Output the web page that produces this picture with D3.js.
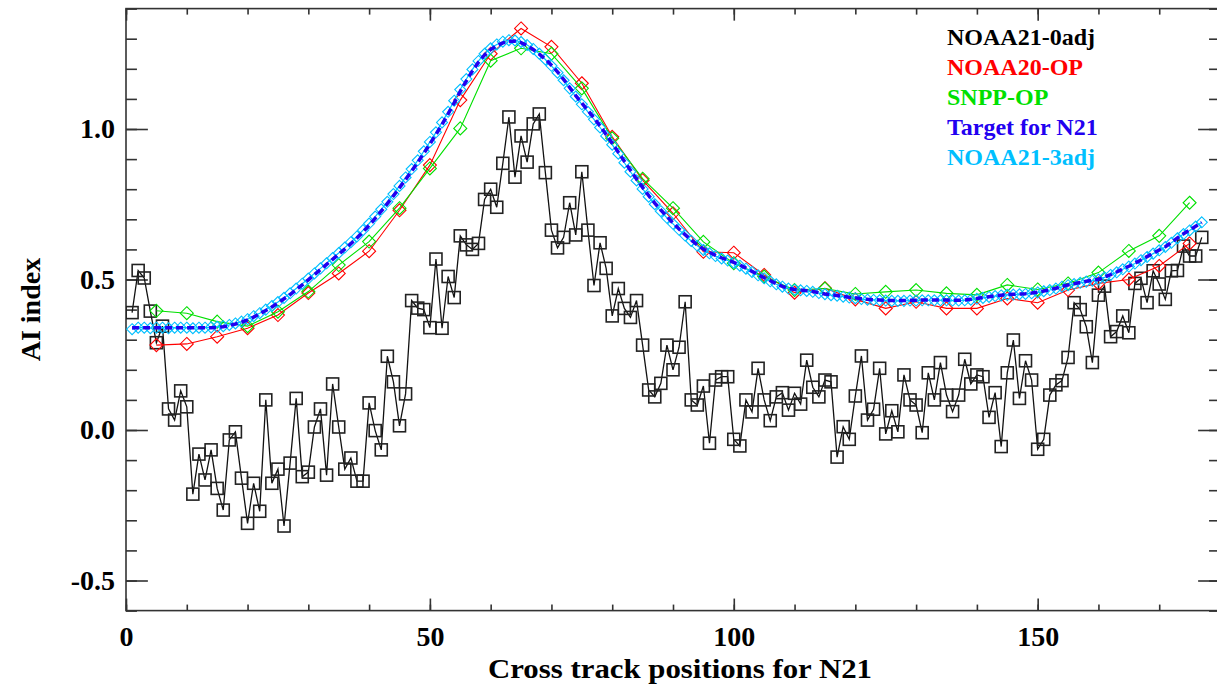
<!DOCTYPE html>
<html lang="en">
<head>
    <meta charset="UTF-8">
    <title>N21 AI cross track</title>
    <style>
        body { margin: 0; background: #fff; }
        svg { display: block; }
        text { font-family: "Liberation Serif", "Times New Roman", serif; font-weight: bold; }
        .tick text { font-size: 28px; fill: #000; }
        .tick line, .frame { stroke: #333; stroke-width: 1.6; }
        .axis-label { font-size: 28px; fill: #000; }
        .legend text { font-size: 24px; }
    </style>
</head>
<body>

<svg width="1217" height="685"></svg>

<script src="https://d3js.org/d3.v7.min.js"></script>
<script>

    // Cross track positions
    const n21Pos = d3.range(1, 178);
    const opPos = [5, 10, 15, 20, 25, 30, 35, 40, 45, 50, 55, 60, 65, 70, 75, 80, 85, 90,
                   95, 100, 105, 110, 115, 120, 125, 130, 135, 140, 145, 150, 155, 160, 165, 170, 175];

    // NOAA21-0adj (black squares)
    const noaa21_0adj = [
        0.39, 0.53, 0.505, 0.395, 0.29, 0.345, 0.07, 0.033, 0.13, 0.077,
        -0.213, -0.08, -0.166, -0.066, -0.194, -0.266, -0.033, -0.006, -0.16, -0.31,
        -0.177, -0.27, 0.10, -0.177, -0.13, -0.319, -0.11, 0.105, -0.155, -0.14,
        0.01, 0.07, -0.15, 0.153, 0.01, -0.13, -0.093, -0.17, -0.17, 0.09,
        -0.002, -0.066, 0.245, 0.16, 0.014, 0.12, 0.43, 0.405, 0.40, 0.34,
        0.568, 0.338, 0.51, 0.44, 0.645, 0.615, 0.60, 0.62, 0.766, 0.80,
        0.74, 0.886, 1.04, 0.84, 0.977, 0.89, 1.017, 1.05, 0.855, 0.664,
        0.605, 0.64, 0.755, 0.648, 0.858, 0.664, 0.48, 0.622, 0.537, 0.379,
        0.47, 0.404, 0.374, 0.43, 0.282, 0.133, 0.11, 0.155, 0.282, 0.20,
        0.275, 0.426, 0.10, 0.083, 0.146, -0.044, 0.166, 0.177, 0.177, -0.031,
        -0.053, 0.10, 0.06, 0.205, 0.10, 0.031, 0.11, 0.124, 0.066, 0.122,
        0.086, 0.232, 0.142, 0.11, 0.166, 0.16, -0.09, 0.011, -0.031, 0.113,
        0.246, 0.033, 0.069, 0.205, -0.013, 0.064, -0.006, 0.183, 0.10, 0.083,
        -0.009, 0.19, 0.10, 0.224, 0.116, 0.061, 0.116, 0.235, 0.153, 0.183,
        0.177, 0.042, 0.124, -0.055, 0.19, 0.299, 0.105, 0.23, 0.166, -0.064,
        -0.031, 0.116, 0.15, 0.164, 0.241, 0.423, 0.40, 0.343, 0.224, 0.448,
        0.478, 0.31, 0.327, 0.379, 0.323, 0.487, 0.504, 0.423, 0.529, 0.485,
        0.434, 0.529, 0.53, 0.611, 0.578, 0.578, 0.64
    ];

    // NOAA20-OP (red diamonds)
    const noaa20_op = [
        0.282, 0.286, 0.31, 0.338, 0.382, 0.455, 0.52, 0.594, 0.73, 0.88,
        1.096, 1.25, 1.334, 1.273, 1.152, 0.974, 0.83, 0.72, 0.592, 0.589,
        0.515, 0.456, 0.471, 0.434, 0.404, 0.426, 0.404, 0.404, 0.437, 0.423,
        0.465, 0.487, 0.50, 0.545, 0.62
    ];

    // SNPP-OP (green diamonds)
    const snpp_op = [
        0.396, 0.388, 0.36, 0.345, 0.393, 0.46, 0.548, 0.626, 0.737, 0.869,
        1.002, 1.227, 1.268, 1.25, 1.135, 0.969, 0.835, 0.737, 0.625, 0.554,
        0.51, 0.465, 0.47, 0.452, 0.459, 0.465, 0.454, 0.449, 0.482, 0.467,
        0.487, 0.523, 0.595, 0.645, 0.755
    ];

    // Target for N21 (blue dashed)
    const target_n21 = [
        0.34, 0.34, 0.34, 0.34, 0.34, 0.34, 0.34, 0.34, 0.34, 0.34,
        0.34, 0.34, 0.34, 0.34, 0.341, 0.343, 0.347, 0.352, 0.358, 0.366,
        0.375, 0.386, 0.397, 0.409, 0.422, 0.436, 0.45, 0.466, 0.482, 0.499,
        0.516, 0.533, 0.55, 0.567, 0.584, 0.601, 0.619, 0.638, 0.658, 0.68,
        0.703, 0.727, 0.752, 0.778, 0.805, 0.832, 0.86, 0.889, 0.919, 0.95,
        0.982, 1.015, 1.05, 1.087, 1.125, 1.16, 1.193, 1.222, 1.246, 1.264,
        1.277, 1.286, 1.291, 1.292, 1.287, 1.277, 1.264, 1.249, 1.232, 1.212,
        1.19, 1.165, 1.138, 1.111, 1.086, 1.062, 1.037, 1.01, 0.982, 0.953,
        0.923, 0.893, 0.863, 0.834, 0.806, 0.779, 0.754, 0.731, 0.709, 0.688,
        0.668, 0.649, 0.631, 0.615, 0.601, 0.59, 0.58, 0.572, 0.565, 0.557,
        0.548, 0.538, 0.527, 0.516, 0.506, 0.496, 0.486, 0.477, 0.471, 0.467,
        0.465, 0.463, 0.46, 0.456, 0.452, 0.449, 0.447, 0.444, 0.441, 0.439,
        0.436, 0.434, 0.433, 0.432, 0.431, 0.43, 0.43, 0.43, 0.431, 0.431,
        0.432, 0.432, 0.432, 0.432, 0.432, 0.431, 0.431, 0.432, 0.434, 0.437,
        0.44, 0.443, 0.446, 0.448, 0.45, 0.451, 0.452, 0.453, 0.455, 0.458,
        0.462, 0.466, 0.471, 0.477, 0.482, 0.486, 0.49, 0.494, 0.497, 0.501,
        0.508, 0.516, 0.525, 0.535, 0.544, 0.554, 0.565, 0.576, 0.587, 0.598,
        0.609, 0.623, 0.638, 0.652, 0.664, 0.677, 0.689
    ];

    // NOAA21-3adj (cyan diamonds)
    const noaa21_3adj = [
        0.335, 0.34, 0.34, 0.338, 0.34, 0.34, 0.338, 0.34, 0.34, 0.34,
        0.338, 0.34, 0.34, 0.341, 0.343, 0.345, 0.349, 0.354, 0.36, 0.368,
        0.378, 0.388, 0.40, 0.412, 0.425, 0.439, 0.454, 0.47, 0.486, 0.503,
        0.52, 0.537, 0.554, 0.571, 0.588, 0.606, 0.624, 0.643, 0.664, 0.686,
        0.709, 0.733, 0.758, 0.784, 0.811, 0.839, 0.867, 0.896, 0.926, 0.957,
        0.989, 1.022, 1.057, 1.094, 1.131, 1.166, 1.198, 1.226, 1.25, 1.268,
        1.281, 1.29, 1.295, 1.294, 1.289, 1.279, 1.266, 1.25, 1.231, 1.21,
        1.187, 1.162, 1.135, 1.108, 1.082, 1.057, 1.032, 1.005, 0.977, 0.948,
        0.918, 0.888, 0.858, 0.829, 0.801, 0.775, 0.75, 0.727, 0.705, 0.685,
        0.665, 0.646, 0.628, 0.612, 0.598, 0.587, 0.578, 0.57, 0.563, 0.555,
        0.546, 0.536, 0.525, 0.514, 0.504, 0.494, 0.484, 0.476, 0.47, 0.466,
        0.464, 0.462, 0.459, 0.455, 0.451, 0.448, 0.446, 0.443, 0.44, 0.438,
        0.435, 0.433, 0.432, 0.431, 0.43, 0.429, 0.429, 0.429, 0.43, 0.43,
        0.431, 0.431, 0.431, 0.431, 0.431, 0.43, 0.43, 0.431, 0.433, 0.436,
        0.439, 0.442, 0.445, 0.447, 0.449, 0.45, 0.451, 0.452, 0.454, 0.457,
        0.461, 0.465, 0.47, 0.476, 0.481, 0.485, 0.489, 0.493, 0.496, 0.50,
        0.507, 0.515, 0.524, 0.534, 0.543, 0.553, 0.564, 0.575, 0.586, 0.597,
        0.608, 0.622, 0.637, 0.651, 0.663, 0.676, 0.69
    ];

    const legendNames = ['NOAA21-0adj', 'NOAA20-OP', 'SNPP-OP', 'Target for N21', 'NOAA21-3adj'];
    const legendColors = ['#000000', '#ff0000', '#00e000', '#2200f0', '#00bfff'];

    const xTicksMajor = [0, 50, 100, 150];
    const yTicksMajor = [-0.5, 0.0, 0.5, 1.0];

    // Plot box (right edge sits just past the picture, as in the original)
    const box = { left: 126, right: 1220, top: 8.6, bottom: 610.6 };

    const svg = d3.select('svg');

    const xScale = d3.scaleLinear().domain([0, 180]).range([box.left, box.right]);
    const yScale = d3.scaleLinear().domain([-0.6, 1.4]).range([box.bottom, box.top]);

    const plotW = box.right - box.left;
    const plotH = box.bottom - box.top;
    const xLen = plotH * 0.02;   // IDL style tick lengths
    const yLen = plotW * 0.02;

    const xMinor = d3.range(0, 181, 10);
    const yMinor = d3.range(-6, 15).map(function (d) { return d / 10; });

    // plain hyphen for negatives, like the original
    const yFormat = function (d) { return d.toFixed(1); };

    function drawAxis(axis, tx, ty, cls) {
        const g = svg.append('g')
            .attr('class', cls)
            .attr('transform', 'translate(' + tx + ',' + ty + ')')
            .call(axis);
        g.select('.domain').remove();
        return g;
    }

    // minor ticks, no labels
    drawAxis(d3.axisBottom(xScale).tickValues(xMinor).tickSize(-xLen / 2).tickFormat(''), 0, box.bottom, 'x-minor');
    drawAxis(d3.axisTop(xScale).tickValues(xMinor).tickSize(-xLen / 2).tickFormat(''), 0, box.top, 'x-minor');
    drawAxis(d3.axisLeft(yScale).tickValues(yMinor).tickSize(-yLen / 2).tickFormat(''), box.left, 0, 'y-minor');
    drawAxis(d3.axisRight(yScale).tickValues(yMinor).tickSize(-yLen / 2).tickFormat(''), box.right, 0, 'y-minor');

    // major ticks
    drawAxis(d3.axisBottom(xScale).tickValues(xTicksMajor).tickSize(-xLen).tickPadding(16).tickFormat(d3.format('d')), 0, box.bottom, 'x-major');
    drawAxis(d3.axisTop(xScale).tickValues(xTicksMajor).tickSize(-xLen).tickFormat(''), 0, box.top, 'x-major');
    drawAxis(d3.axisLeft(yScale).tickValues(yTicksMajor).tickSize(-yLen).tickPadding(11).tickFormat(yFormat), box.left, 0, 'y-major');
    drawAxis(d3.axisRight(yScale).tickValues(yTicksMajor).tickSize(-yLen).tickFormat(''), box.right, 0, 'y-major');

    svg.append('rect')
        .attr('class', 'frame')
        .attr('x', box.left)
        .attr('y', box.top)
        .attr('width', plotW)
        .attr('height', plotH)
        .attr('fill', 'none');

    // Axis titles
    svg.append('text')
        .attr('class', 'axis-label')
        .attr('x', 680)
        .attr('y', 678)
        .attr('text-anchor', 'middle')
        .attr('textLength', 384)
        .attr('lengthAdjust', 'spacingAndGlyphs')
        .text('Cross track positions for N21');

    svg.append('text')
        .attr('class', 'axis-label')
        .attr('transform', 'translate(40,' + ((box.top + box.bottom) / 2) + ') rotate(-90)')
        .attr('text-anchor', 'middle')
        .text('AI index');

    // Series
    svg.append('clipPath').attr('id', 'plot-clip')
        .append('rect')
        .attr('x', box.left).attr('y', box.top)
        .attr('width', plotW).attr('height', plotH);

    const plot = svg.append('g').attr('clip-path', 'url(#plot-clip)');

    function zip(xs, ys) {
        return xs.map(function (x, i) { return [x, ys[i]]; });
    }

    const line = d3.line()
        .x(function (d) { return xScale(d[0]); })
        .y(function (d) { return yScale(d[1]); });

    function diamondPath(r) {
        return 'M0,' + (-r) + 'L' + r + ',0L0,' + r + 'L' + (-r) + ',0Z';
    }

    // black: NOAA21-0adj
    const blackData = zip(n21Pos, noaa21_0adj);
    plot.append('path').datum(blackData)
        .attr('d', line).attr('fill', 'none').attr('stroke', '#111').attr('stroke-width', 1.3);
    plot.selectAll('rect.sq').data(blackData).enter().append('rect')
        .attr('class', 'sq')
        .attr('x', function (d) { return xScale(d[0]) - 6; })
        .attr('y', function (d) { return yScale(d[1]) - 6; })
        .attr('width', 12).attr('height', 12)
        .attr('fill', 'none').attr('stroke', '#222').attr('stroke-width', 1.6);

    function diamondSeries(data, color, r, width) {
        const g = plot.append('g');
        g.append('path').datum(data)
            .attr('d', line).attr('fill', 'none').attr('stroke', color).attr('stroke-width', width);
        g.selectAll('path.mk').data(data).enter().append('path')
            .attr('class', 'mk')
            .attr('d', diamondPath(r))
            .attr('transform', function (d) { return 'translate(' + xScale(d[0]) + ',' + yScale(d[1]) + ')'; })
            .attr('fill', 'none').attr('stroke', color).attr('stroke-width', 1.1);
    }

    diamondSeries(zip(opPos, noaa20_op), legendColors[1], 6.5, 1.1);
    diamondSeries(zip(opPos, snpp_op), legendColors[2], 6.5, 1.1);
    diamondSeries(zip(n21Pos, noaa21_3adj), legendColors[4], 5.5, 1.2);

    // blue target, thick dashed
    plot.append('path').datum(zip(n21Pos, target_n21))
        .attr('d', line).attr('fill', 'none')
        .attr('stroke', legendColors[3]).attr('stroke-width', 3.5)
        .attr('stroke-dasharray', '7,4');

    // Legend
    const legend = svg.append('g').attr('class', 'legend');
    legend.selectAll('text').data(legendNames).enter().append('text')
        .attr('x', 947)
        .attr('y', function (d, i) { return 45 + i * 30; })
        .attr('fill', function (d, i) { return legendColors[i]; })
        .text(function (d) { return d; });

</script>
</body>
</html>
